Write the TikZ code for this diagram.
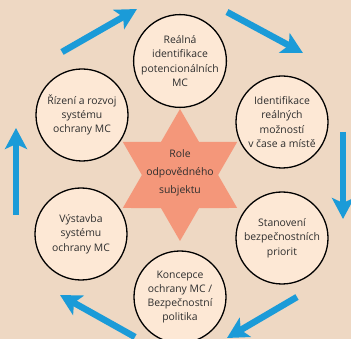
\documentclass[tikz,border=0pt]{standalone}
\usepackage{fontspec}
\setmainfont{Open Sans}
\usetikzlibrary{shapes.geometric,arrows.meta}

\definecolor{bg_light}{HTML}{EED8C3}
\definecolor{bg_dark}{HTML}{DDC1A8}
\definecolor{stage_fill}{HTML}{FDE8D5}
\definecolor{hub_fill}{HTML}{F4977A}
\definecolor{flow_blue}{HTML}{1B9BD8}
\definecolor{text_gray}{HTML}{2E2E2E}

\begin{document}
\begin{tikzpicture}[x=1pt, y=-1pt]

	\tikzstyle{stage} = [circle, draw=black, line width=1.3pt, fill=stage_fill, minimum size=92pt, inner sep=0pt, align=center, text=text_gray, font=\fontsize{10.4}{14.3}\selectfont]
	\tikzstyle{hub} = [star, star points=6, star point ratio=1.732, fill=hub_fill, minimum size=132pt, inner sep=0pt]
	\tikzstyle{hub_text} = [align=center, text=text_gray, font=\fontsize{10.4}{18}\selectfont]
	\tikzstyle{flow} = [line width=6.5pt, draw=flow_blue, -{Stealth[width=22pt, length=21pt, inset=5pt]}]

%------------------------------------------------------------
	\useasboundingbox (0,0) rectangle (351,339);
	\shade[left color=bg_light, middle color=bg_dark, right color=bg_light] (0,0) rectangle (351,339);

%------------------------------------------------------------
	\node[hub] (role) at (180,175) {};
	\node[hub_text] (role_t) at (180,173) {Role\\odpovědného\\subjektu};

%------------------------------------------------------------
	\node[stage] (real) at (180,61) {Reálná\\identifikace\\potencionálních\\MC};
	\node[stage] (ident) at (282,122) {Identifikace\\reálných\\možností\\v čase a místě};
	\node[stage] (stanov) at (282,238) {Stanovení\\bezpečnostních\\priorit};
	\node[stage] (konc) at (180,297) {Koncepce\\ochrany MC /\\Bezpečnostní\\politika};
	\node[stage] (vyst) at (81,234) {Výstavba\\systému\\ochrany MC};
	\node[stage] (rizeni) at (82,115) {Řízení a rozvoj\\systému\\ochrany MC};

%------------------------------------------------------------
	\coordinate (tl_s) at (62,52);
	\coordinate (tl_e) at (137,9);
	\coordinate (tr_s) at (227,12);
	\coordinate (tr_e) at (303,53);
	\coordinate (r_s) at (343,132);
	\coordinate (r_e) at (343,219);
	\coordinate (br_s) at (297,297);
	\coordinate (br_e) at (227,338);
	\coordinate (bl_s) at (135,337);
	\coordinate (bl_e) at (60,295);
	\coordinate (l_s) at (16,215);
	\coordinate (l_e) at (16,128);

	\draw[flow] (tl_s) -- (tl_e);
	\draw[flow] (tr_s) -- (tr_e);
	\draw[flow] (r_s) -- (r_e);
	\draw[flow] (br_s) -- (br_e);
	\draw[flow] (bl_s) -- (bl_e);
	\draw[flow] (l_s) -- (l_e);

\end{tikzpicture}
\end{document}
